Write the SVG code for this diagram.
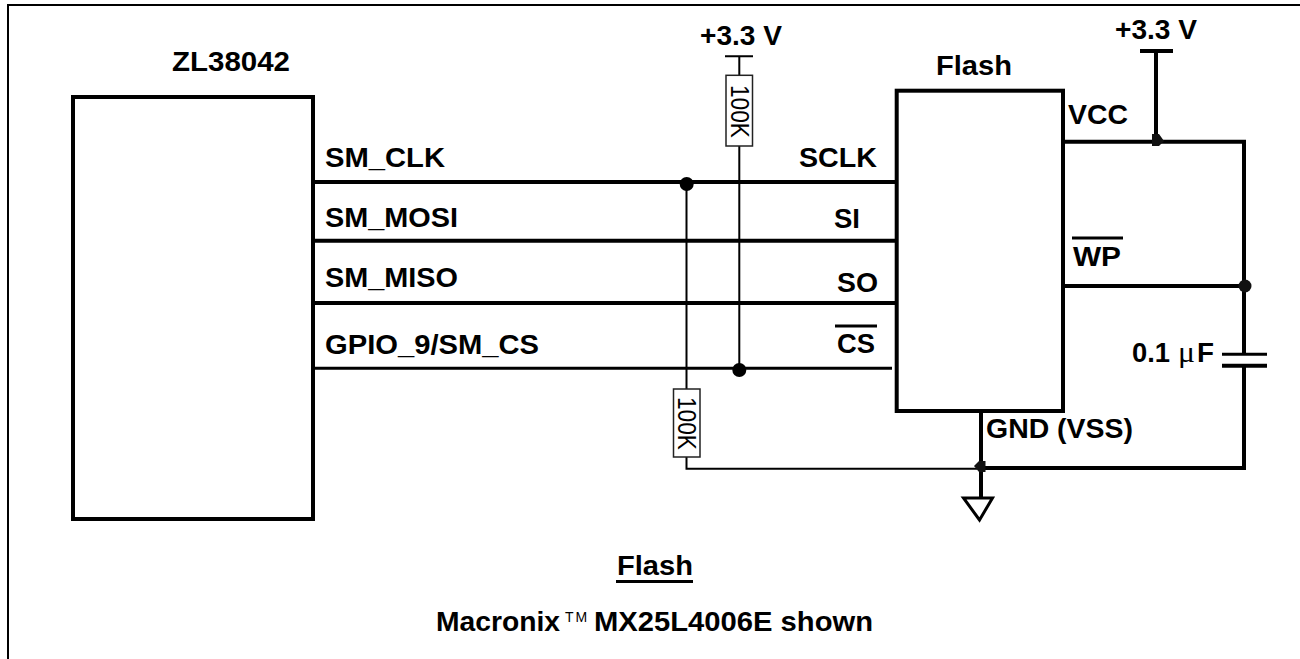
<svg xmlns="http://www.w3.org/2000/svg" width="1300" height="659" viewBox="0 0 1300 659">
<style>
text{font-family:"Liberation Sans",Arial,sans-serif;font-weight:bold;font-size:27.500px;fill:#000}
.w{fill:none;stroke:#000;stroke-width:4}
.t{fill:none;stroke:#000;stroke-width:2}
.o{fill:none;stroke:#000;stroke-width:3}
.box{fill:#fff;stroke:#000;stroke-width:4}
.r{fill:#fff;stroke:#222;stroke-width:1.500}
.rl{font-weight:normal;font-size:25px}
.j{fill:#111}
</style>
<rect width="1300" height="659" fill="#fff"/>
<path id="frame" d="M8 659V5H1300" fill="none" stroke="#000" stroke-width="2"/>
<g id="connectors">
<path class="w" d="M313 182H896M313 240.700H896M313 303H896"/>
<path class="o" d="M313 368.300H892"/>
<path class="t" d="M686.500 184V468.700H977M739.300 56V370M725 56.300H753"/>
<path class="w" d="M1063 141.700H1244V354M1244 366V468H979M1063 286H1244M1156 51V141M1140 51H1173M981 411V498"/>
<path class="o" d="M1222 354.300H1267"/>
<path class="w" d="M1222 365.700H1267"/>
<path d="M963.500 498H992.500L979.500 520Z" fill="#fff" stroke="#000" stroke-width="3"/>
<circle cx="686.700" cy="184" r="7"/><circle cx="739.300" cy="370" r="7"/>
<path class="j" d="M1152 134H1159L1164 141L1159 146H1152Z"/>
<circle class="j" cx="1245" cy="286" r="6.500"/>
<path class="j" d="M974 466L979 461H985.500V472H979Z"/>
</g>
<g id="zl38042"><rect class="box" x="73" y="97" width="240" height="422"/><text x="172" y="70.500" textLength="118" lengthAdjust="spacingAndGlyphs">ZL38042</text></g>
<g id="flash"><rect class="box" x="896.700" y="90.700" width="166.300" height="320.300"/><text x="936" y="75" textLength="76" lengthAdjust="spacingAndGlyphs">Flash</text></g>
<g id="r1"><rect class="r" x="726" y="75.300" width="26.500" height="70.700"/><text class="rl" transform="translate(731,85) rotate(90)" textLength="53" lengthAdjust="spacingAndGlyphs">100K</text></g>
<g id="r2"><rect class="r" x="673.500" y="389" width="26.500" height="68"/><text class="rl" transform="translate(678,397) rotate(90)" textLength="53" lengthAdjust="spacingAndGlyphs">100K</text></g>
<g id="labels">
<text x="700" y="45" textLength="82" lengthAdjust="spacingAndGlyphs">+3.3 V</text>
<text x="1115" y="39" textLength="82" lengthAdjust="spacingAndGlyphs">+3.3 V</text>
<text x="325" y="167" textLength="120" lengthAdjust="spacingAndGlyphs">SM_CLK</text>
<text x="325" y="227" textLength="133" lengthAdjust="spacingAndGlyphs">SM_MOSI</text>
<text x="325" y="287" textLength="133" lengthAdjust="spacingAndGlyphs">SM_MISO</text>
<text x="325" y="354" textLength="214" lengthAdjust="spacingAndGlyphs">GPIO_9/SM_CS</text>
<text x="799" y="167" textLength="78" lengthAdjust="spacingAndGlyphs">SCLK</text>
<text x="834" y="228" textLength="26" lengthAdjust="spacingAndGlyphs">SI</text>
<text x="837" y="292" textLength="41" lengthAdjust="spacingAndGlyphs">SO</text>
<text x="837" y="353" textLength="38" lengthAdjust="spacingAndGlyphs">CS</text>
<path class="o" d="M835 326H877M1072 238H1123"/>
<text x="1068" y="124" textLength="60" lengthAdjust="spacingAndGlyphs">VCC</text>
<text x="1073" y="266" textLength="48" lengthAdjust="spacingAndGlyphs">WP</text>
<text x="1132" y="362" textLength="38" lengthAdjust="spacingAndGlyphs">0.1</text>
<text x="1178" y="362" style="font-family:'Liberation Serif',serif;font-weight:normal;font-size:30px" textLength="17" lengthAdjust="spacingAndGlyphs">μ</text>
<text x="1197" y="362" textLength="17" lengthAdjust="spacingAndGlyphs">F</text>
<text x="986" y="438" textLength="147" lengthAdjust="spacingAndGlyphs">GND (VSS)</text>
<text x="617" y="575" textLength="76" lengthAdjust="spacingAndGlyphs">Flash</text>
<path class="o" d="M616 581.500H693"/>
<text x="436" y="631" textLength="124" lengthAdjust="spacingAndGlyphs">Macronix</text>
<text x="565" y="622" style="font-weight:normal;font-size:14px;letter-spacing:2px">TM</text>
<text x="594" y="631" textLength="279" lengthAdjust="spacingAndGlyphs">MX25L4006E shown</text>
</g>
</svg>
